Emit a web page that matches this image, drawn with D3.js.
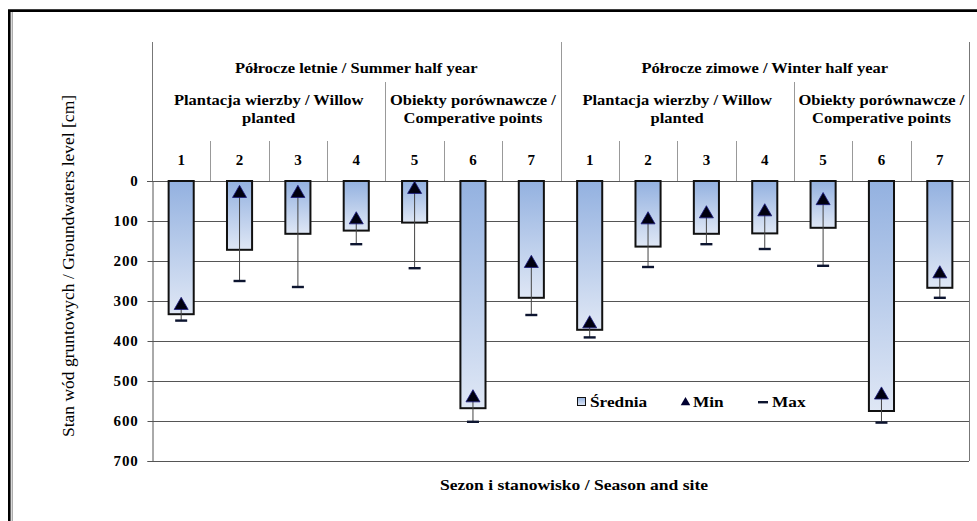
<!DOCTYPE html>
<html lang="pl">
<head>
  <meta charset="UTF-8">
  <title>Stan wód gruntowych</title>
  <script src="https://d3js.org/d3.v7.min.js"></script>
  <style>
    html, body { margin: 0; padding: 0; background: #fff; overflow: hidden; }
    svg { display: block; font-family: 'Liberation Serif', 'DejaVu Serif', serif; }
    .bold { font-weight: bold; }
  </style>
</head>
<body>
  <div id="chart"></div>

  <script>
    // values, cm below ground
    const seasons = ["Półrocze letnie / Summer half year", "Półrocze zimowe  / Winter half year"];
    const groups = [["Plantacja wierzby / Willow", "planted"], ["Obiekty porównawcze /", "Comperative points"]];
    const sites = [1, 2, 3, 4, 5, 6, 7];
    const siteGroup = [0, 0, 0, 0, 1, 1, 1];
    const meanVals = [333, 172, 132, 124, 104, 568, 292, 372, 164, 132, 131, 117, 575, 267];
    const minVals = [311, 31, 31, 97, 21, 542, 206, 357, 97, 82, 77, 49, 535, 232];
    const maxVals = [349, 250, 265, 158, 218, 602, 335, 391, 215, 158, 170, 212, 604, 292];
    const yTicks = [0, 100, 200, 300, 400, 500, 600, 700];

    const W = 977, H = 521;
    const pLeft = 152, pRight = 969, pTop = 181, pBottom = 461;

    const data = [];
    seasons.forEach((s, si) => {
      sites.forEach((site, i) => {
        const k = si * sites.length + i;
        data.push({ key: si + "-" + site, season: si, site: site, group: siteGroup[i],
                    mean: meanVals[k], min: minVals[k], max: maxVals[k] });
      });
    });

    // the original lettering is a little wider than Liberation Serif
    function stretch(sel, f) {
      sel.each(function () {
        const w = this.getComputedTextLength();
        d3.select(this).attr("textLength", w * f).attr("lengthAdjust", "spacingAndGlyphs");
      });
    }

    const svg = d3.select("#chart").append("svg").attr("width", W).attr("height", H);
    svg.append("rect").attr("width", W).attr("height", H).attr("fill", "#fff");

    // outer frame (only top and left visible)
    svg.append("path").attr("d", `M9.3,${H} V10.6 H${W}`)
      .attr("fill", "none").attr("stroke", "#000").attr("stroke-width", 2.6);
    svg.append("line").attr("x1", 12.2).attr("x2", 12.2).attr("y1", 12).attr("y2", H)
      .attr("stroke", "#888").attr("stroke-width", 1);

    const x = d3.scaleBand().domain(data.map(d => d.key)).range([pLeft, pRight])
      .paddingInner(0.57).paddingOuter(0.285);
    const step = x.step();
    const y = d3.scaleLinear().domain([0, 700]).range([pTop, pBottom]);

    const defs = svg.append("defs");
    const grad = defs.append("linearGradient").attr("id", "barGrad")
      .attr("x1", 0).attr("y1", 0).attr("x2", 0).attr("y2", 1);
    grad.append("stop").attr("offset", "0%").attr("stop-color", "#93b1e0");
    grad.append("stop").attr("offset", "100%").attr("stop-color", "#dfe7f5");

    // grid lines
    svg.append("g").selectAll("line").data(yTicks.slice(1)).enter().append("line")
      .attr("x1", pLeft).attr("x2", pRight)
      .attr("y1", d => y(d) + 0.5).attr("y2", d => y(d) + 0.5)
      .attr("stroke", "#555").attr("stroke-width", 1);

    // y axis
    const yAxis = svg.append("g").attr("transform", `translate(${pLeft + 0.5},0)`)
      .call(d3.axisLeft(y).tickValues(yTicks).tickSize(5).tickPadding(9));
    yAxis.select(".domain").attr("stroke", "#555");
    yAxis.selectAll(".tick line").attr("stroke", "#555");
    yAxis.selectAll(".tick text").attr("class", "bold").attr("font-size", 15)
      .attr("fill", "#000").attr("font-family", "'Liberation Serif', serif")
      .attr("letter-spacing", 0.8);

    // plot borders above the axis and at the right
    svg.append("line").attr("x1", pRight + 0.5).attr("x2", pRight + 0.5).attr("y1", 42).attr("y2", pBottom)
      .attr("stroke", "#777");
    svg.append("line").attr("x1", pLeft + 0.5).attr("x2", pLeft + 0.5).attr("y1", 42).attr("y2", pTop)
      .attr("stroke", "#777");

    // header lines
    const hdr = svg.append("g").attr("stroke", "#999").attr("stroke-width", 1);
    hdr.append("line").attr("x1", pLeft - 5).attr("x2", pRight).attr("y1", pTop + 0.5).attr("y2", pTop + 0.5)
      .attr("stroke", "#555");
    data.forEach((d, i) => {
      if (i === 0) return;
      const bx = Math.round(x(d.key) - (step - x.bandwidth()) / 2) + 0.5;
      let y1 = 141;
      if (d.season !== data[i - 1].season) y1 = 42;
      else if (d.group !== data[i - 1].group) y1 = 82;
      hdr.append("line").attr("x1", bx).attr("x2", bx).attr("y1", y1).attr("y2", pTop);
    });

    // header texts
    const txt = svg.append("g").attr("class", "bold").attr("font-size", 15).attr("fill", "#000")
      .attr("text-anchor", "middle").style("white-space", "pre");
    seasons.forEach((s, si) => {
      const ks = data.filter(d => d.season === si);
      const cx = (x(ks[0].key) + x(ks[ks.length - 1].key) + x.bandwidth()) / 2;
      txt.append("text").attr("class", "hd").attr("x", cx).attr("y", 73).text(s);
      groups.forEach((g, gi) => {
        const kg = ks.filter(d => d.group === gi);
        const gx = (x(kg[0].key) + x(kg[kg.length - 1].key) + x.bandwidth()) / 2;
        txt.append("text").attr("class", "hd").attr("x", gx).attr("y", 105).text(g[0]);
        txt.append("text").attr("class", "hd").attr("x", gx).attr("y", 123).text(g[1]);
      });
    });
    stretch(txt.selectAll(".hd"), 1.1);
    txt.selectAll(".site").data(data).enter().append("text").attr("class", "site")
      .attr("x", d => x(d.key) + x.bandwidth() / 2).attr("y", 165).attr("font-size", 15)
      .text(d => d.site);

    // bars
    svg.append("g").selectAll("rect").data(data).enter().append("rect")
      .attr("x", d => x(d.key)).attr("y", y(0))
      .attr("width", x.bandwidth()).attr("height", d => y(d.mean) - y(0))
      .attr("fill", "url(#barGrad)").attr("stroke", "#111").attr("stroke-width", 2);

    // min-max whiskers
    svg.append("g").selectAll("line").data(data).enter().append("line")
      .attr("x1", d => x(d.key) + x.bandwidth() / 2).attr("x2", d => x(d.key) + x.bandwidth() / 2)
      .attr("y1", d => y(d.min)).attr("y2", d => y(d.max))
      .attr("stroke", "#444").attr("stroke-width", 1);

    // max marks
    svg.append("g").selectAll("rect").data(data).enter().append("rect")
      .attr("x", d => x(d.key) + x.bandwidth() / 2 - 6).attr("y", d => y(d.max) - 1.2)
      .attr("width", 12).attr("height", 2.4).attr("fill", "#0d1530");

    // min triangles
    const tri = d3.symbol().type(d3.symbolTriangle).size(85);
    svg.append("g").selectAll("path").data(data).enter().append("path")
      .attr("d", tri)
      .attr("transform", d => `translate(${x(d.key) + x.bandwidth() / 2},${y(d.min)})`)
      .attr("fill", "#000010").attr("stroke", "#1a1a80").attr("stroke-width", 0.8);

    // legend
    const lg = svg.append("g").attr("class", "bold").attr("font-size", 15).attr("fill", "#000");
    lg.append("rect").attr("x", 577.5).attr("y", 397.5).attr("width", 8).attr("height", 8)
      .attr("fill", "url(#barGrad)").attr("stroke", "#111").attr("stroke-width", 1);
    lg.append("text").attr("class", "lt").attr("x", 590).attr("y", 407).text("Średnia");
    lg.append("path").attr("d", d3.symbol().type(d3.symbolTriangle).size(40))
      .attr("transform", "translate(685.5,402.5)").attr("fill", "#000030");
    lg.append("text").attr("class", "lt").attr("x", 693).attr("y", 407).text("Min");
    lg.append("rect").attr("x", 758).attr("y", 401).attr("width", 10).attr("height", 2.4).attr("fill", "#0d1530");
    lg.append("text").attr("class", "lt").attr("x", 772).attr("y", 407).text("Max");
    stretch(lg.selectAll(".lt"), 1.15);

    // axis titles
    svg.append("text").attr("transform", "translate(74,266) rotate(-90)")
      .attr("text-anchor", "middle").attr("font-size", 17.5).attr("fill", "#000")
      .text("Stan wód gruntowych / Groundwaters level [cm]");
    const xt = svg.append("text").attr("class", "bold").attr("x", 574).attr("y", 490)
      .attr("text-anchor", "middle").attr("font-size", 15).attr("fill", "#000")
      .text("Sezon i stanowisko / Season and site");
    stretch(xt, 1.17);

    // keep the strip right of the plot border blank
    svg.append("rect").attr("x", 971).attr("y", 14).attr("width", 6).attr("height", H - 14).attr("fill", "#fff");
  </script>
</body>
</html>
